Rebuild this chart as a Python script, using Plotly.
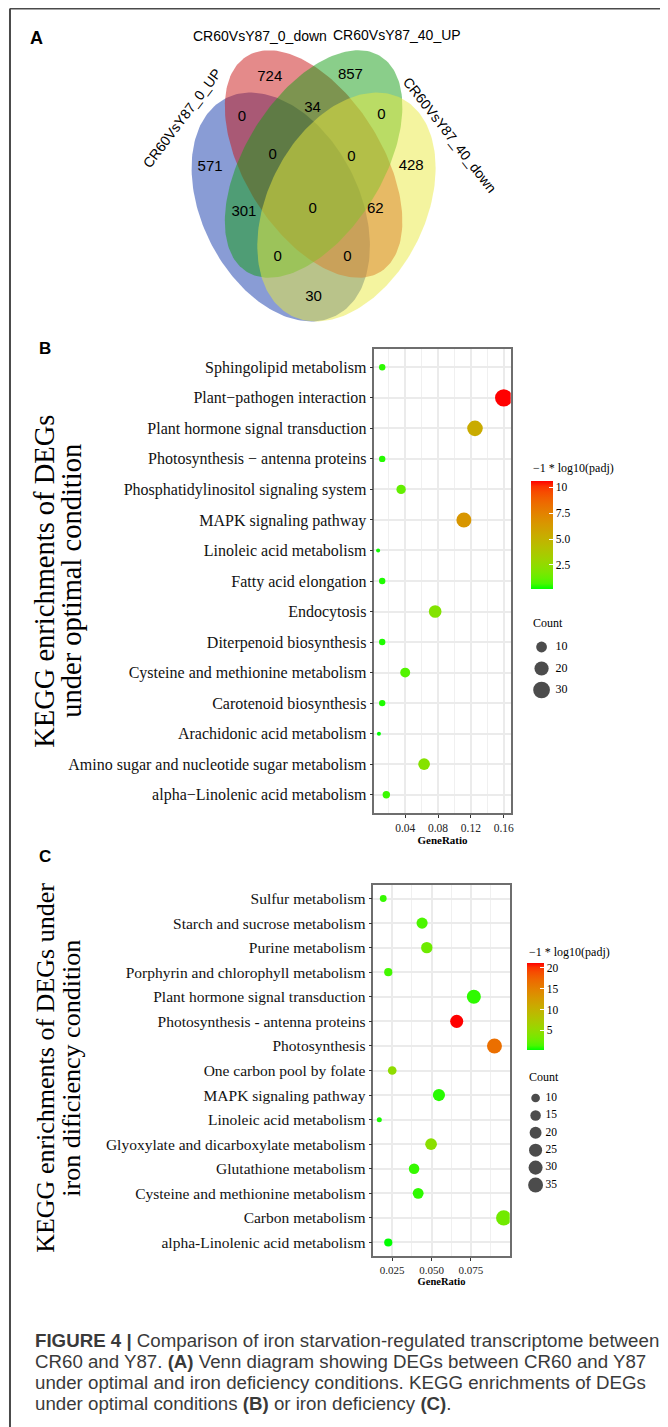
import numpy as np
import plotly.graph_objects as go

# page body has an 8px margin: the figure covers page pixels 8..668 x 8..1427
OFF = 8
PW, PH = 668, 1427
W, H = PW - OFF, PH - OFF
SERIF = "Liberation Serif"
SANS = "Liberation Sans"

# ---------------- Panel A: Venn data ----------------
set_names = ["CR60VsY87_0_UP", "CR60VsY87_0_down", "CR60VsY87_40_UP", "CR60VsY87_40_down"]
region_counts = [724, 857, 0, 34, 0, 571, 0, 0, 428, 301, 0, 62, 0, 0, 30]

# ---------------- Panel B data (top to bottom) ----------------
cats_B = ["Sphingolipid metabolism", "Plant\u2212pathogen interaction", "Plant hormone signal transduction",
          "Photosynthesis \u2212 antenna proteins", "Phosphatidylinositol signaling system",
          "MAPK signaling pathway", "Linoleic acid metabolism", "Fatty acid elongation", "Endocytosis",
          "Diterpenoid biosynthesis", "Cysteine and methionine metabolism", "Carotenoid biosynthesis",
          "Arachidonic acid metabolism", "Amino sugar and nucleotide sugar metabolism",
          "alpha\u2212Linolenic acid metabolism"]
ratio_B = [0.012, 0.160, 0.125, 0.012, 0.035, 0.1115, 0.007, 0.012, 0.0765, 0.012, 0.040, 0.012, 0.008, 0.063, 0.017]
count_B = [3, 33, 25, 3, 7, 23, 2, 3, 15, 3, 8, 3, 2, 12, 4]
padj_B = [0.5, 10.58, 5.4, 0.45, 1.2, 6.5, 0.3, 0.4, 2.0, 0.4, 0.9, 0.4, 0.19, 2.1, 0.6]
xticks_B = [0.04, 0.08, 0.12, 0.16]
cbar_ticks_B = [2.5, 5.0, 7.5, 10]
cbar_text_B = ["2.5", "5.0", "7.5", "10"]
size_breaks_B = [10, 20, 30]

# ---------------- Panel C data (top to bottom) ----------------
cats_C = ["Sulfur metabolism", "Starch and sucrose metabolism", "Purine metabolism",
          "Porphyrin and chlorophyll metabolism", "Plant hormone signal transduction",
          "Photosynthesis - antenna proteins", "Photosynthesis", "One carbon pool by folate",
          "MAPK signaling pathway", "Linoleic acid metabolism", "Glyoxylate and dicarboxylate metabolism",
          "Glutathione metabolism", "Cysteine and methionine metabolism", "Carbon metabolism",
          "alpha-Linolenic acid metabolism"]
ratio_C = [0.0193, 0.044, 0.047, 0.0225, 0.0769, 0.066, 0.090, 0.025, 0.0547, 0.0168, 0.0497, 0.0389, 0.0415, 0.0959, 0.0225]
count_C = [7, 17, 18, 9, 30, 25, 35, 10, 21, 6, 19, 15, 16, 37, 9]
padj_C = [1.0, 1.4, 2.8, 1.2, 0.9, 21.2, 16.6, 4.8, 0.8, 0.6, 4.4, 1.0, 0.9, 3.0, 0.24]
xticks_C = [0.025, 0.050, 0.075]
xtick_text_C = ["0.025", "0.050", "0.075"]
cbar_ticks_C = [5, 10, 15, 20]
size_breaks_C = [10, 15, 20, 25, 30, 35]

caption_lines = [
    "<b>FIGURE 4 |</b> Comparison of iron starvation-regulated transcriptome between",
    "CR60 and Y87. <b>(A)</b> Venn diagram showing DEGs between CR60 and Y87",
    "under optimal and iron deficiency conditions. KEGG enrichments of DEGs",
    "under optimal conditions <b>(B)</b> or iron deficiency <b>(C)</b>.",
]


def px(x):  # page pixel -> paper fraction
    return (x - OFF) / W


def py(y):
    return 1 - (y - OFF) / H


# ---- green -> red gradient interpolated in Lab (like ggplot scale_colour_gradient) ----
def _lin(c):
    c = c / 255.0
    return c / 12.92 if c <= 0.04045 else ((c + 0.055) / 1.055) ** 2.4


def _delin(c):
    c = 12.92 * c if c <= 0.0031308 else 1.055 * c ** (1 / 2.4) - 0.055
    return int(round(min(max(c, 0), 1) * 255))


M = np.array([[0.4124, 0.3576, 0.1805], [0.2126, 0.7152, 0.0722], [0.0193, 0.1192, 0.9505]])
WHITE = np.array([0.95047, 1.0, 1.08883])


def rgb2lab(rgb):
    xyz = M @ np.array([_lin(c) for c in rgb]) / WHITE
    f = np.where(xyz > 0.008856, np.cbrt(xyz), 7.787 * xyz + 16 / 116)
    return np.array([116 * f[1] - 16, 500 * (f[0] - f[1]), 200 * (f[1] - f[2])])


def lab2rgb(lab):
    fy = (lab[0] + 16) / 116
    fx = fy + lab[1] / 500
    fz = fy - lab[2] / 200
    f = np.array([fx, fy, fz])
    xyz = np.where(f ** 3 > 0.008856, f ** 3, (f - 16 / 116) / 7.787) * WHITE
    lin = np.linalg.solve(M, xyz)
    return tuple(_delin(c) for c in lin)


lo, hi = rgb2lab((0, 255, 0)), rgb2lab((255, 0, 0))
colorscale = []
for t in np.linspace(0, 1, 21):
    r, g, b = lab2rgb(lo + (hi - lo) * t)
    colorscale.append([float(t), f"rgb({r},{g},{b})"])


def sizes(counts, vals, dmin, dmax):
    cmin, cmax = min(counts), max(counts)
    return [dmin + (dmax - dmin) * np.sqrt((v - cmin) / (cmax - cmin)) for v in vals]


fig = go.Figure()

# ---------------- Venn (overlay axis in page-pixel units) ----------------
ellipses = [  # (cx, cy, semi-major, semi-minor, angle deg, rgb)
    (282, 207, 122, 79, 63, (20, 58, 172)),
    (315, 164, 127, 69, 58, (201, 22, 22)),
    (315, 164, 127, 69, 122, (22, 158, 22)),
    (348, 207, 122, 79, 117, (234, 234, 64)),
]
tt = np.linspace(0, 2 * np.pi, 200)
for cx, cy, a, b, ang, col in ellipses:
    ph = np.radians(ang)
    xs = cx + a * np.cos(tt) * np.cos(ph) - b * np.sin(tt) * np.sin(ph)
    ys = cy + a * np.cos(tt) * np.sin(ph) + b * np.sin(tt) * np.cos(ph)
    fig.add_trace(go.Scatter(x=xs, y=ys, mode="lines", fill="toself",
                             fillcolor=f"rgba({col[0]},{col[1]},{col[2]},0.5)",
                             line=dict(width=0), hoverinfo="skip", showlegend=False,
                             xaxis="x3", yaxis="y3"))

region_pos = [(271, 77), (352, 75), (243, 117), (314, 108), (383, 115), (211, 167), (274, 155),
              (353, 157), (413, 166), (245, 212), (314, 209), (377, 209), (279, 257), (349, 257), (315, 297)]
fig.add_trace(go.Scatter(x=[p[0] for p in region_pos], y=[p[1] for p in region_pos],
                         text=[str(c) for c in region_counts], mode="text",
                         textfont=dict(family=SANS, size=15, color="black"),
                         hoverinfo="skip", showlegend=False, xaxis="x3", yaxis="y3"))

set_label_pos = [(183, 118, -53), (261, 36, 0), (399, 35, 0), (452, 135, 52)]
annotations = []
for name, (x, y, ang) in zip(set_names, set_label_pos):
    annotations.append(dict(x=x, y=y, xref="x3", yref="y3", text=name, showarrow=False,
                            textangle=ang, font=dict(family=SANS, size=14, color="black"),
                            xanchor="center", yanchor="middle"))

# ---------------- Panel B ----------------
fig.add_trace(go.Scatter(x=ratio_B, y=cats_B, mode="markers",
                         marker=dict(size=sizes(count_B, count_B, 4, 17.4), color=padj_B,
                                     coloraxis="coloraxis", line=dict(width=0), opacity=1),
                         showlegend=False, xaxis="x", yaxis="y"))
# ---------------- Panel C ----------------
fig.add_trace(go.Scatter(x=ratio_C, y=cats_C, mode="markers",
                         marker=dict(size=sizes(count_C, count_C, 5, 15.3), color=padj_C,
                                     coloraxis="coloraxis2", line=dict(width=0), opacity=1),
                         showlegend=False, xaxis="x2", yaxis="y2"))

# ---------------- size legends ----------------
for breaks, counts, dmin, dmax, x0, y0, step, xl, fs in [
        (size_breaks_B, count_B, 4, 17.4, 544, 647, 21.5, 558, 12),
        (size_breaks_C, count_C, 5, 15.3, 538, 1098, 17.4, 548, 11.5)]:
    ys = [y0 + i * step for i in range(len(breaks))]
    fig.add_trace(go.Scatter(x=[x0] * len(breaks), y=ys, mode="markers",
                             marker=dict(size=sizes(counts, breaks, dmin, dmax), color="black",
                                         line=dict(width=0)),
                             hoverinfo="skip", showlegend=False, xaxis="x3", yaxis="y3"))
    fig.add_trace(go.Scatter(x=[xl] * len(breaks), y=ys, mode="text", text=[str(b) for b in breaks],
                             textposition="middle right",
                             textfont=dict(family=SERIF, size=fs, color="black"),
                             hoverinfo="skip", showlegend=False, xaxis="x3", yaxis="y3"))

# legend titles
for txt, x, y, fs in [("\u22121 * log10(padj)", 533, 468, 12), ("Count", 533, 623, 12),
                      ("\u22121 * log10(padj)", 529, 952, 12), ("Count", 529, 1077, 12)]:
    annotations.append(dict(x=px(x), y=py(y), xref="paper", yref="paper", text=txt, showarrow=False,
                            xanchor="left", yanchor="middle", font=dict(family=SERIF, size=fs, color="black")))

# y-axis titles (big rotated), centred on their panels
for txt, x, y, fs in [("KEGG enrichments of DEGs", 44, 581, 28.5), ("under optimal condition", 71, 581, 28.5),
                      ("KEGG enrichments of DEGs under", 45, 1068, 26), ("iron dificiency condition", 71, 1068, 26)]:
    annotations.append(dict(x=px(x), y=py(y), xref="paper", yref="paper", text=txt, showarrow=False,
                            textangle=-90, xanchor="center", yanchor="middle",
                            font=dict(family=SERIF, size=fs, color="black")))

# panel letters
for txt, x, y, fs in [("A", 37, 38, 18), ("B", 45, 348, 17), ("C", 45, 856, 17)]:
    annotations.append(dict(x=px(x), y=py(y), xref="paper", yref="paper", text=f"<b>{txt}</b>",
                            showarrow=False, xanchor="center", yanchor="middle",
                            font=dict(family=SANS, size=fs, color="black")))

# caption
for i, line in enumerate(caption_lines):
    annotations.append(dict(x=px(33), y=py(1340 + i * 21.2), xref="paper", yref="paper", text=line,
                            showarrow=False, xanchor="left", yanchor="middle",
                            font=dict(family=SANS, size=18.7, color="#3a3a3a")))

shapes = [
    dict(type="line", xref="paper", yref="paper", x0=px(10), x1=1.0, y0=py(8.5), y1=py(8.5),
         line=dict(color="#4a4a4a", width=2)),
    dict(type="line", xref="paper", yref="paper", x0=px(10), x1=px(10), y0=py(8.5), y1=0,
         line=dict(color="#4a4a4a", width=2)),
]

axis_common = dict(showline=True, mirror=True, linecolor="#6e6e6e", linewidth=1.5,
                   ticks="outside", ticklen=3, tickwidth=1.2, tickcolor="#333333",
                   showgrid=True, gridcolor="#EBEBEB", gridwidth=2, zeroline=False)


def cbar(ticks, text, x, ytop, length, thick, fs):
    return dict(thickness=thick, thicknessmode="pixels", len=length, lenmode="pixels",
                x=px(x), xanchor="left", y=py(ytop), yanchor="top", xpad=0, ypad=0,
                outlinewidth=0, ticks="inside", ticklen=4, tickcolor="white", tickwidth=1,
                tickvals=ticks, ticktext=text, tickfont=dict(family=SERIF, size=fs, color="black"))


fig.update_layout(
    width=W, height=H, margin=dict(l=0, r=0, t=0, b=0),
    paper_bgcolor="white", plot_bgcolor="rgba(0,0,0,0)",
    showlegend=False,
    xaxis=dict(domain=[px(376), px(513)], anchor="y", range=[0.0024, 0.1685],
               tickvals=xticks_B, ticktext=[f"{v:.2f}" for v in xticks_B],
               tickfont=dict(family=SERIF, size=11.5, color="#222"),
               minor=dict(tickvals=[0.02, 0.06, 0.10, 0.14], showgrid=True, gridcolor="#F0F0F0", gridwidth=1.2),
               title=dict(text="<b>GeneRatio</b>", font=dict(family=SERIF, size=11, color="black"), standoff=3),
               **axis_common),
    yaxis=dict(domain=[py(813), py(349)], anchor="x", type="category",
               categoryorder="array", categoryarray=cats_B[::-1], range=[-0.6, 14.6],
               tickfont=dict(family=SERIF, size=16, color="#111"), **axis_common),
    xaxis2=dict(domain=[px(375), px(512)], anchor="y2", range=[0.013, 0.0997],
                tickvals=xticks_C, ticktext=xtick_text_C,
                tickfont=dict(family=SERIF, size=11, color="#222"),
                minor=dict(tickvals=[0.0375, 0.0625, 0.0875], showgrid=True, gridcolor="#F0F0F0", gridwidth=1.2),
                title=dict(text="<b>GeneRatio</b>", font=dict(family=SERIF, size=10.5, color="black"), standoff=2),
                **axis_common),
    yaxis2=dict(domain=[py(1256), py(885)], anchor="x2", type="category",
                categoryorder="array", categoryarray=cats_C[::-1], range=[-0.55, 14.55],
                tickfont=dict(family=SERIF, size=15.5, color="#111"), **axis_common),
    xaxis3=dict(domain=[0, 1], anchor="y3", range=[OFF, PW], visible=False, fixedrange=True),
    yaxis3=dict(domain=[0, 1], anchor="x3", range=[PH, OFF], visible=False, fixedrange=True),
    coloraxis=dict(colorscale=colorscale,
                   colorbar=cbar(cbar_ticks_B, cbar_text_B, 533, 481, 108, 22, 11.5)),
    coloraxis2=dict(colorscale=colorscale,
                    colorbar=cbar(cbar_ticks_C, [str(v) for v in cbar_ticks_C], 529, 963, 87, 17, 11.5)),
    annotations=annotations, shapes=shapes,
)

fig.write_html("out.html")
